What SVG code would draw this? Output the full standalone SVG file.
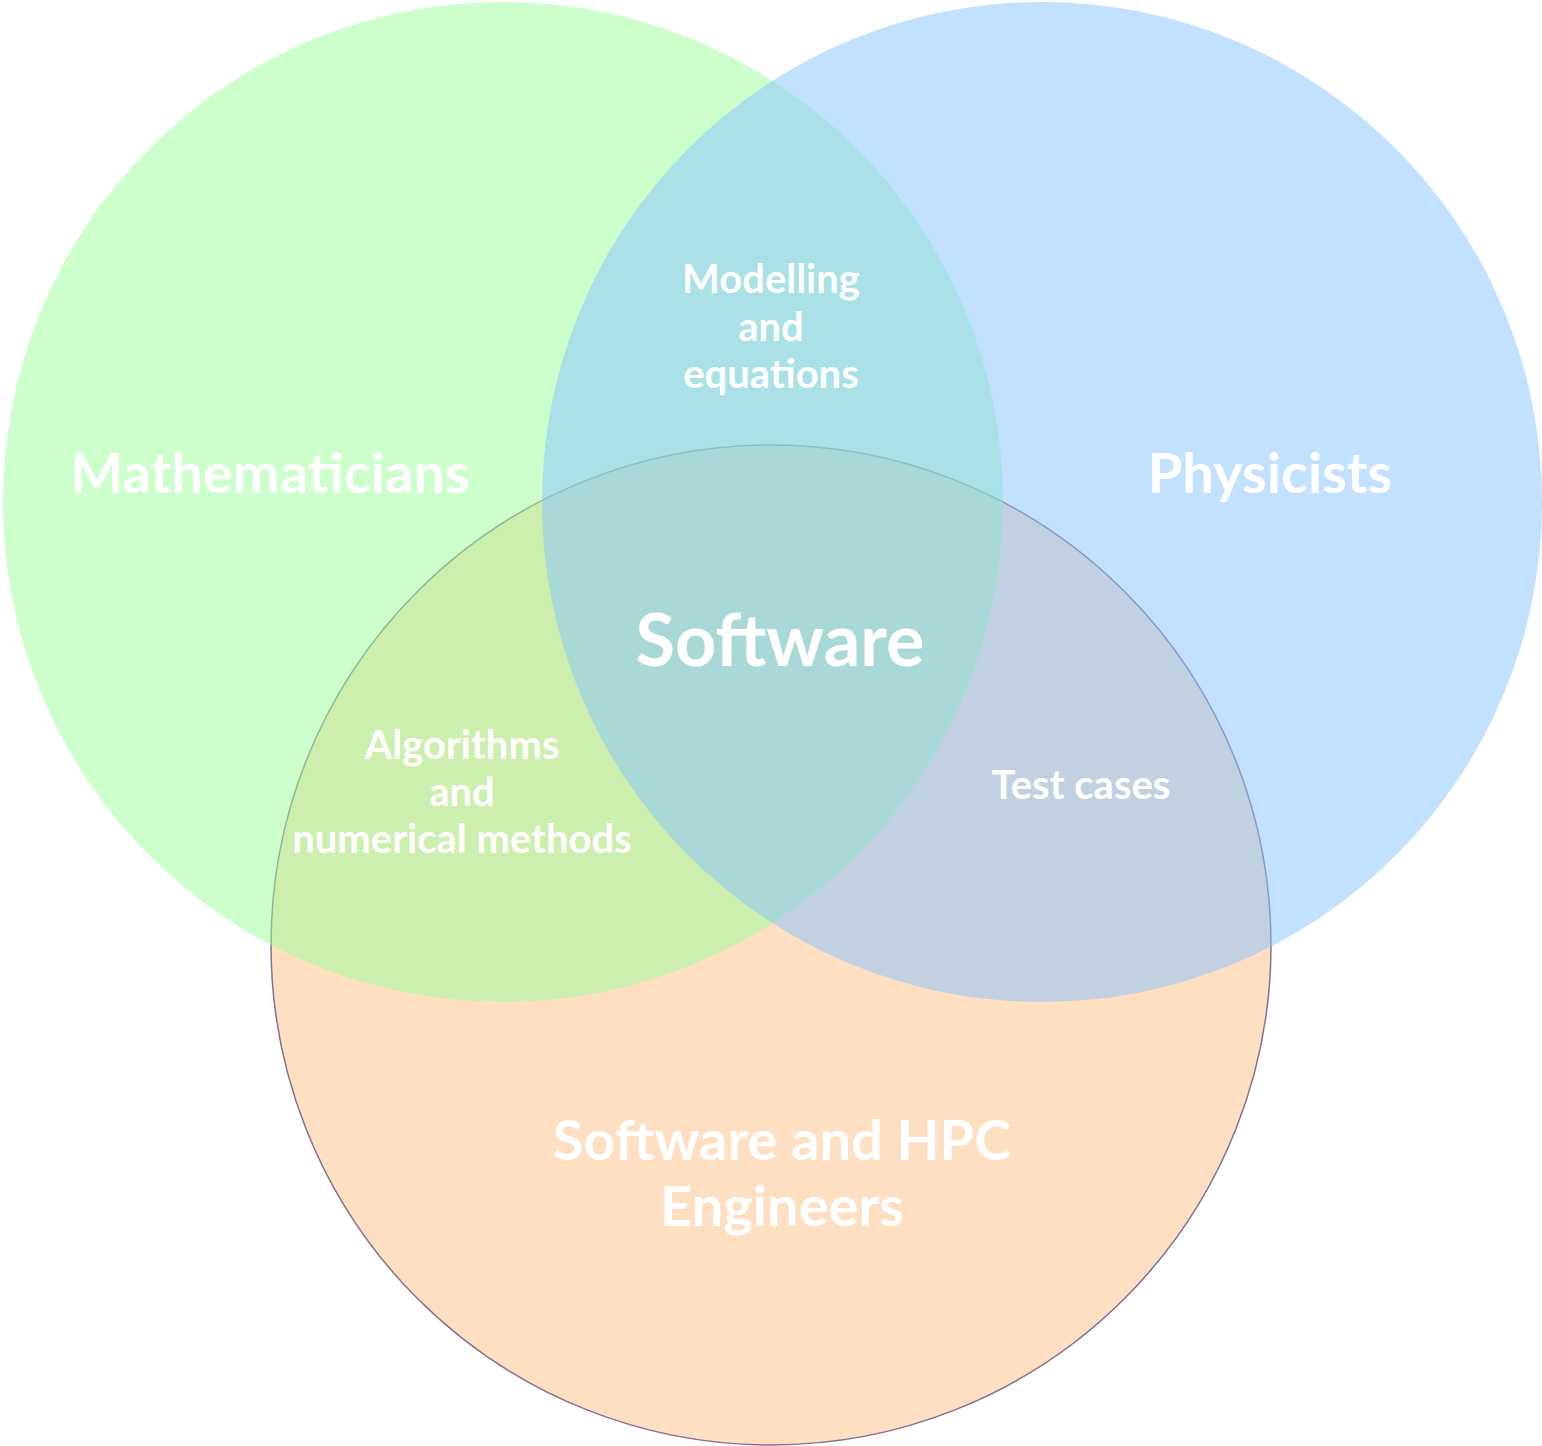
<svg xmlns="http://www.w3.org/2000/svg" width="1542" height="1446" viewBox="0 0 1542 1446">
<style>
.lbl{font-family:Lato,"Liberation Sans",sans-serif;font-weight:bold;fill:#ffffff;text-anchor:middle}
.big{font-size:56px}
.mid{font-size:40px}
.core{font-size:72px}
</style>
<rect width="1542" height="1446" fill="#ffffff"/>
<g id="engineers">
<circle cx="771" cy="945" r="500" fill="#ffdfc2" stroke="#85708f" stroke-width="1.5"/>
</g>
<g id="mathematicians">
<circle cx="503" cy="502" r="500" fill="#99ff99" fill-opacity="0.5"/>
</g>
<g id="physicists">
<circle cx="1042" cy="502" r="500" fill="#85c3ff" fill-opacity="0.5"/>
</g>
<g id="connectors"></g>
<g id="labels">
<text class="lbl big" x="270" y="493">Mathematicians</text>
<text class="lbl big" x="1270" y="493">Physicists</text>
<text class="lbl mid" x="771" y="293">Modelling</text>
<text class="lbl mid" x="771" y="341">and</text>
<text class="lbl mid" x="771" y="388">equations</text>
<text class="lbl core" x="780" y="666">Software</text>
<text class="lbl mid" x="462" y="759">Algorithms</text>
<text class="lbl mid" x="462" y="806">and</text>
<text class="lbl mid" x="462" y="853">numerical methods</text>
<text class="lbl mid" x="1081" y="799">Test cases</text>
<text class="lbl big" x="782" y="1160">Software and HPC</text>
<text class="lbl big" x="782" y="1226">Engineers</text>
</g>
</svg>
